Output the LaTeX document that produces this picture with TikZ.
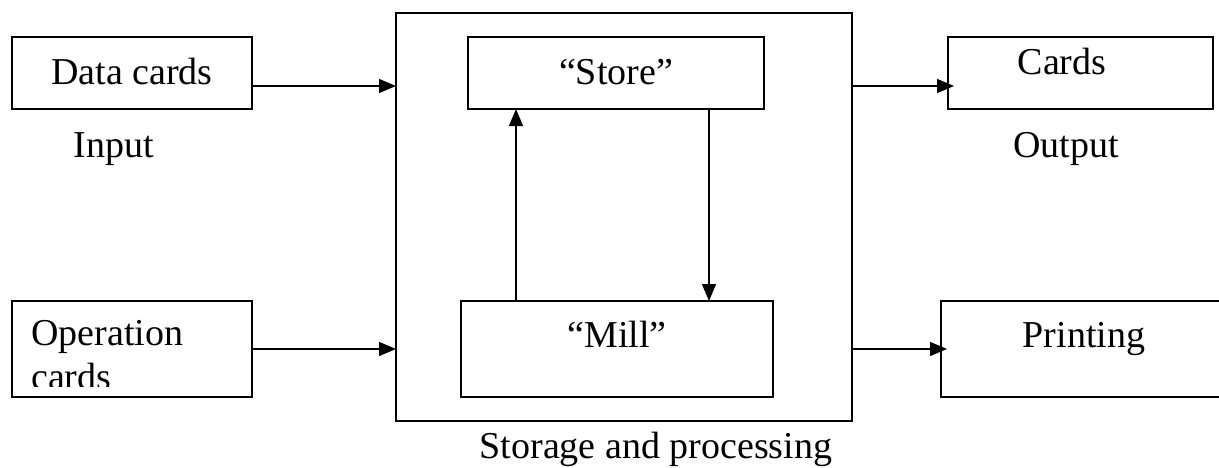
\documentclass[tikz,border=0pt]{standalone}
\usepackage{fontspec}
\setmainfont{Liberation Serif}
\usetikzlibrary{arrows.meta}
\begin{document}
\begin{tikzpicture}[x=1pt,y=-1pt,
  box/.style={draw, line width=1.4pt, rectangle, inner sep=0pt, outer sep=0pt},
  blank/.style={rectangle, inner sep=0pt, outer sep=0pt},
  lbl/.style={anchor=base, inner sep=0pt, font=\fontsize{38}{44}\selectfont},
  arr/.style={line width=1.3pt, -{Triangle[length=17pt,width=14pt]}},
  edge/.style={line width=1.4pt}]
\useasboundingbox (0,0) rectangle (1219,467);

% input side
\node[box, minimum width=240pt, minimum height=72pt] (data) at (132,73) {};
\node[box, minimum width=240pt, minimum height=96pt] (oper) at (132,349) {};

% storage and processing unit
\node[box, minimum width=456pt, minimum height=408pt] (unit) at (624,217) {};
\node[box, minimum width=296pt, minimum height=72pt] (store) at (616,73) {};
\node[box, minimum width=312pt, minimum height=96pt] (mill) at (617,349) {};

% output side
\node[box, minimum width=265pt, minimum height=72pt] (cards) at (1080.5,73) {};
\node[blank, minimum width=281pt, minimum height=96pt] (print) at (1081.5,349) {};
\draw[edge] (print.north east) -- (print.north west) -- (print.south west) -- (print.south east);

% labels
\node[lbl] (tdata) at (132,84) {Data cards};
\node[lbl] (tinput) at (114,157) {Input};
\begin{scope}
  \clip (12,301) rectangle (252,386);
  \node[lbl, anchor=base west] (toper) at (31,345) {Operation};
  \node[lbl, anchor=base west] (tocards) at (31,389) {cards};
\end{scope}
\node[lbl] (tstore) at (616,84) {“Store”};
\node[lbl] (tmill) at (617,347) {“Mill”};
\node[lbl] (tunit) at (656,458) {Storage and processing};
\node[lbl] (tcards) at (1062,74) {Cards};
\node[lbl] (toutput) at (1066,157) {Output};
\node[lbl] (tprint) at (1084,347) {Printing};

% connectors
\coordinate (ya) at (0,86);
\coordinate (yb) at (0,349);
\coordinate (up) at (516,0);
\coordinate (down) at (709,0);
\draw[arr] (data.east |- ya) -- (unit.west |- ya);
\draw[arr] (oper.east |- yb) -- (unit.west |- yb);
\draw[arr] (up |- mill.north) -- (up |- store.south);
\draw[arr] (down |- store.south) -- (down |- mill.north);
\draw[arr] (unit.east |- ya) -- ([xshift=6pt]cards.west |- ya);
\draw[arr] (unit.east |- yb) -- ([xshift=6pt]print.west |- yb);
\end{tikzpicture}
\end{document}
